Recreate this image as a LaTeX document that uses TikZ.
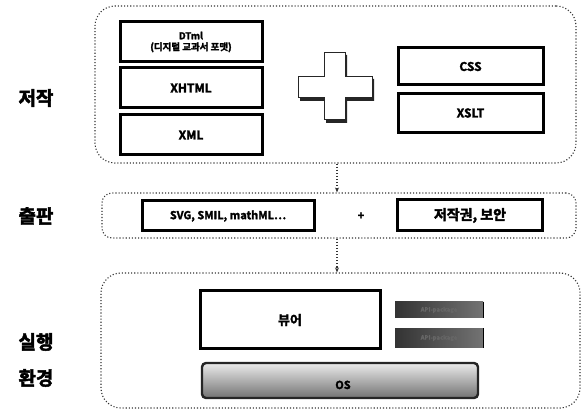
\documentclass[tikz,border=0pt]{standalone}
\usepackage{fontspec}
\setmainfont{Noto Sans CJK KR}[BoldFont={Noto Sans CJK KR Bold}, BoldFeatures={FakeBold=2.5}]
\usetikzlibrary{arrows.meta}
\begin{document}
\begin{tikzpicture}[x=1pt,y=-1pt,
  cont/.style={draw=black!80, dotted, line width=1.1pt, rounded corners=20pt},
  contm/.style={draw=black!80, dotted, line width=1.1pt, rounded corners=10pt},
  box/.style={draw=black, line width=3pt, fill=white, font=\bfseries\fontsize{12}{13}\selectfont, inner sep=0pt},
  api/.style={left color=black!80, right color=black!55, inner sep=0pt, font=\bfseries\fontsize{6}{7}\selectfont, text=black!60},
  lab/.style={font=\bfseries\fontsize{19}{21}\selectfont},
  arr/.style={dotted, line width=1.1pt, draw=black!80, -{Stealth[length=5pt,width=4pt]}}
]
\useasboundingbox (0,0) rectangle (582,414);
% containers
\node[cont, minimum width=481pt, minimum height=157pt] (top) at (335.5,84.5) {};
\node[contm, minimum width=474pt, minimum height=45pt] (mid) at (339,215.5) {};
\node[cont, minimum width=479pt, minimum height=135pt] (bot) at (340.5,340.5) {};
% arrows
\coordinate (ax) at (337,0);
\draw[arr] (ax |- top.south) -- (ax |- mid.north);
\draw[arr] (ax |- mid.south) -- (ax |- bot.north);
% labels
\node[lab] (l1) at (36,98) {저작};
\node[lab] (l2) at (36,216) {출판};
\node[lab] (l3) at (36,342) {실행};
\node[lab] (l4) at (36,378) {환경};
% top inner boxes
\node[box, minimum width=142pt, minimum height=40pt, align=center, font=\bfseries\fontsize{9.5}{11}\selectfont] (dtml) at (191,42) {DTml\\(디지털 교과서 포맷)};
\node[box, minimum width=142pt, minimum height=40pt] (xhtml) at (191,88) {XHTML};
\node[box, minimum width=142pt, minimum height=40pt] (xml) at (191,135) {XML};
\node[box, minimum width=145pt, minimum height=37pt] (css) at (470.5,66.5) {CSS};
\node[box, minimum width=145pt, minimum height=39pt] (xslt) at (470.5,113) {XSLT};
% plus sign
\coordinate (pc) at (334,87);
\begin{scope}[shift={(pc)}]
  \fill[black!85] (-8,-32) -- (13,-32) -- (13,-8) -- (40,-8) -- (40,14) -- (13,14) -- (13,36) -- (-8,36) -- (-8,14) -- (-34,14) -- (-34,-8) -- (-8,-8) -- cycle;
  \draw[fill=white, line width=1pt, draw=black!85] (-10,-34) -- (11,-34) -- (11,-10) -- (38,-10) -- (38,11) -- (11,11) -- (11,33) -- (-10,33) -- (-10,11) -- (-36,11) -- (-36,-10) -- (-10,-10) -- cycle;
\end{scope}
% middle
\node[box, minimum width=172pt, minimum height=30pt, font=\bfseries\fontsize{11}{12}\selectfont] (svg) at (228,216) {SVG, SMIL, mathML…};
\node[font=\bfseries\fontsize{11}{12}\selectfont] (plus2) at (361,216) {+};
\node[box, minimum width=145pt, minimum height=31pt, font=\bfseries\fontsize{14}{16}\selectfont] (sec) at (470,215.5) {저작권, 보안};
% bottom
\node[box, minimum width=180pt, minimum height=58pt, font=\bfseries\fontsize{13}{14}\selectfont] (viewer) at (290,320) {뷰어};
\node[api, minimum width=88pt, minimum height=16pt] (api1) at (439,310) {API-package};
\node[api, minimum width=88pt, minimum height=19pt] (api2) at (439,338) {API-package};
\draw[line width=0.8pt] (api1.north east) -- (api1.south east);
\draw[line width=0.8pt] (api2.north east) -- (api2.south east);
\node[draw=black!85, line width=2.4pt, rounded corners=4pt, top color=black!8, bottom color=black!55, minimum width=276pt, minimum height=35pt, inner sep=0pt] (os) at (340,380.5) {};
\node[font=\bfseries\fontsize{11}{12}\selectfont, anchor=base] (ostxt) at (343,389) {OS};
\end{tikzpicture}
\end{document}
